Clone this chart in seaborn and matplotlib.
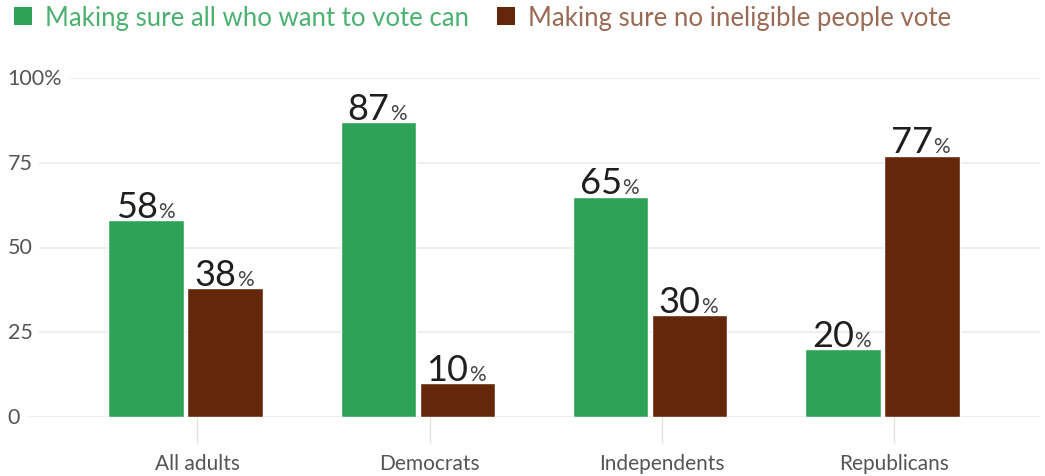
import pandas as pd
import matplotlib.pyplot as plt
import seaborn as sns
from matplotlib.patches import Patch

# Données
groups = ["All adults", "Democrats", "Independents", "Republicans"]
series = ["Making sure all who want to vote can", "Making sure no ineligible people vote"]
vote_can = [58, 87, 65, 20]
no_ineligible = [38, 10, 30, 77]
y_ticks = [0, 25, 50, 75, 100]
y_labels = ["0", "25", "50", "75", "100%"]

colors = ["#2ea357", "#65270a"]
text_colors = ["#4cb170", "#9a6a55"]

df = pd.DataFrame({
    "group": groups * 2,
    "series": [series[0]] * 4 + [series[1]] * 4,
    "value": vote_can + no_ineligible,
})

sns.set_theme(style="white")
plt.rcParams["font.family"] = ["Lato", "DejaVu Sans"]

fig = plt.figure(figsize=(10.45, 4.77), dpi=100)
ax = fig.add_axes([28 / 1045, 59 / 477, (1040 - 28) / 1045, (418 - 79) / 477])

sns.barplot(data=df, x="group", y="value", hue="series", order=groups,
            hue_order=series, palette=colors, width=0.68, gap=0.04,
            legend=False, ax=ax, saturation=1)

ax.set_xlim(-0.68, 3.68)
ax.set_ylim(0, 100)
ax.set_xlabel("")
ax.set_ylabel("")
for s in ax.spines.values():
    s.set_visible(False)

# grille horizontale
ax.set_yticks(y_ticks)
ax.set_yticklabels([])
ax.tick_params(axis="y", length=0)
for t in y_ticks:
    ax.axhline(t, color="#ebebeb", lw=1.2, zorder=0)
for t, lab in zip(y_ticks, y_labels):
    ax.annotate(lab, xy=(0, t), xycoords=("figure fraction", "data"),
                xytext=(5.5, 0), textcoords="offset points", ha="left",
                va="center", fontsize=15.5, color="#555555",
                bbox=dict(boxstyle="square,pad=0.3", fc="white", ec="none"))

# ticks de l'axe x
ax.set_xticks([i + 0.05 for i in range(len(groups))])
ax.set_xticklabels(groups, fontsize=15, color="#555555")
ax.tick_params(axis="x", length=19, width=1, color="#e3e3e3", pad=7, bottom=True)

# étiquettes de valeurs
for p in ax.patches:
    h = p.get_height()
    if h <= 0:
        continue
    cx = p.get_x() + p.get_width() / 2
    ax.annotate(f"{int(round(h))}", xy=(cx, h), xytext=(8, 2.5),
                textcoords="offset points", ha="right", va="baseline",
                fontsize=26, color="#1f1f1f", annotation_clip=False)
    ax.annotate("%", xy=(cx, h), xytext=(8.5, 2.5),
                textcoords="offset points", ha="left", va="baseline",
                fontsize=15, color="#444444", annotation_clip=False)

# légende
handles = [Patch(facecolor=c, edgecolor="none") for c in colors]
leg = fig.legend(handles, series, loc="upper left", bbox_to_anchor=(-0.009, 1.035),
                 ncol=2, frameon=False, fontsize=18.5, handlelength=0.7,
                 handleheight=0.7, handletextpad=0.5, columnspacing=1.1,
                 labelcolor=text_colors)

fig.savefig("out.png", dpi=100)
